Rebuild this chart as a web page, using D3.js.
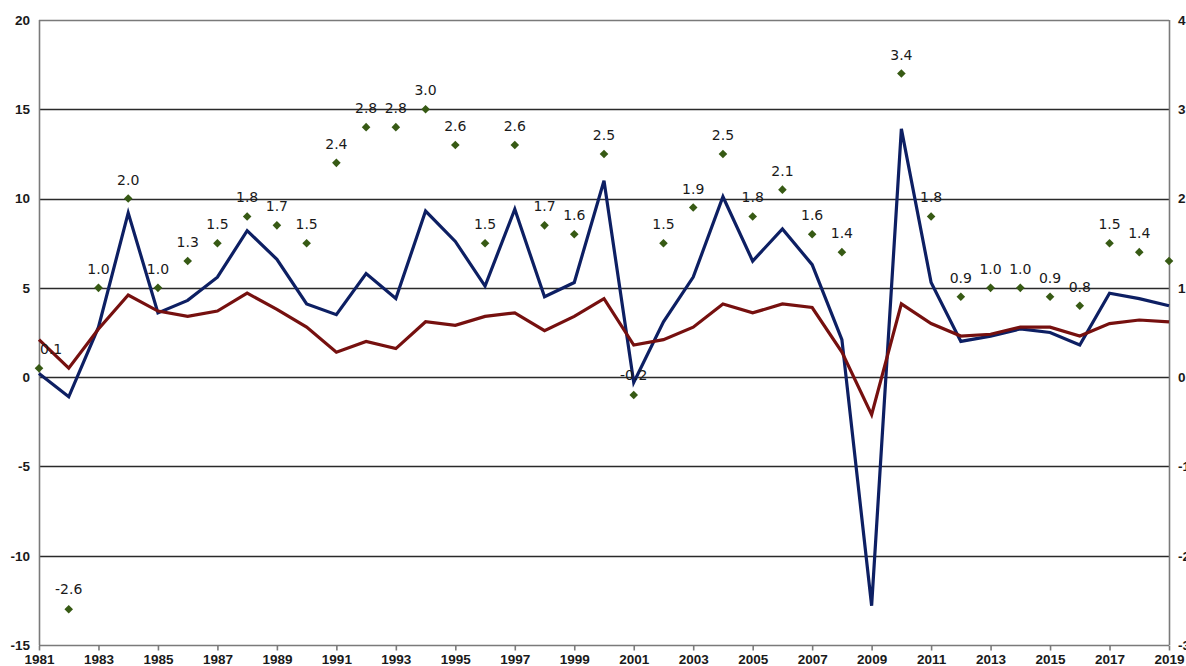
<!DOCTYPE html>
<html>
<head>
<meta charset="utf-8">
<script src="https://cdn.jsdelivr.net/npm/d3@7/dist/d3.min.js"></script>
<style>
  html, body { margin: 0; padding: 0; background: #fff; overflow: hidden; }
  svg { display: block; }
  .tick-label { font-family: "Liberation Sans", "DejaVu Sans", sans-serif; font-weight: bold; font-size: 13.5px; fill: #1a1a1a; }
  .data-label { font-family: "DejaVu Sans", sans-serif; font-size: 14px; fill: #1a1a1a; }
</style>
</head>
<body>
<svg id="chart" width="1186" height="666"></svg>
<script>
// Years on the x axis
const years = d3.range(1981, 2020);

// World trade volume growth, % (left axis)
const tradeGrowth = [0.2, -1.1, 2.8, 9.2, 3.6, 4.3, 5.6, 8.2, 6.6, 4.1,
  3.5, 5.8, 4.4, 9.3, 7.6, 5.1, 9.4, 4.5, 5.3, 11.0,
  -0.3, 3.1, 5.6, 10.1, 6.5, 8.3, 6.3, 2.1, -12.8, 13.9,
  5.3, 2.0, 2.3, 2.7, 2.5, 1.8, 4.7, 4.4, 4.0];

// World GDP growth, % (left axis)
const gdpGrowth = [2.1, 0.5, 2.7, 4.6, 3.7, 3.4, 3.7, 4.7, 3.8, 2.8,
  1.4, 2.0, 1.6, 3.1, 2.9, 3.4, 3.6, 2.6, 3.4, 4.4,
  1.8, 2.1, 2.8, 4.1, 3.6, 4.1, 3.9, 1.4, -2.1, 4.1,
  3.0, 2.3, 2.4, 2.8, 2.8, 2.3, 3.0, 3.2, 3.1];

// Ratio of trade growth to GDP growth (right axis); 2009 falls outside the scale
const ratio = [0.1, -2.6, 1.0, 2.0, 1.0, 1.3, 1.5, 1.8, 1.7, 1.5,
  2.4, 2.8, 2.8, 3.0, 2.6, 1.5, 2.6, 1.7, 1.6, 2.5,
  -0.2, 1.5, 1.9, 2.5, 1.8, 2.1, 1.6, 1.4, null, 3.4,
  1.8, 0.9, 1.0, 1.0, 0.9, 0.8, 1.5, 1.4, 1.3];

// Years whose ratio point carries no value label
const unlabelledYears = [2019];

// Axis ticks
const leftTicks = [-15, -10, -5, 0, 5, 10, 15, 20];
const rightTicks = [-3, -2, -1, 0, 1, 2, 3, 4];
const yearTicks = d3.range(1981, 2020, 2);

const svg = d3.select("#chart");
const plotLeft = 39, plotRight = 1169, plotTop = 20, plotBottom = 645;

const x = d3.scaleLinear().domain([1981, 2019]).range([plotLeft, plotRight]);
const yL = d3.scaleLinear().domain([-15, 20]).range([plotBottom, plotTop]);
const yR = d3.scaleLinear().domain([-3, 4]).range([plotBottom, plotTop]);

// Plain hyphen-minus for negative numbers
const locale = d3.formatLocale({ decimal: ".", thousands: ",", grouping: [3], currency: ["", ""], minus: "-" });
const fmtInt = locale.format("d");
const fmt1 = locale.format(".1f");

// Horizontal gridlines
svg.append("g")
  .selectAll("line")
  .data(leftTicks.filter(t => t > -15 && t < 20))
  .join("line")
  .attr("x1", plotLeft).attr("x2", plotRight)
  .attr("y1", d => Math.round(yL(d)) + 0.5)
  .attr("y2", d => Math.round(yL(d)) + 0.5)
  .attr("stroke", "#2a2a2a")
  .attr("stroke-width", 1.6);

// Frame: top line, left/right/bottom axis lines
const frame = svg.append("g").attr("stroke", "#7a7a7a").attr("stroke-width", 1.6).attr("fill", "none");
frame.append("line").attr("x1", plotLeft).attr("x2", plotRight).attr("y1", plotTop + 0.5).attr("y2", plotTop + 0.5);
frame.append("line").attr("x1", plotLeft).attr("x2", plotRight).attr("y1", plotBottom + 0.5).attr("y2", plotBottom + 0.5);
frame.append("line").attr("x1", plotLeft + 0.5).attr("x2", plotLeft + 0.5).attr("y1", plotTop).attr("y2", plotBottom);
frame.append("line").attr("x1", plotRight + 0.5).attr("x2", plotRight + 0.5).attr("y1", plotTop).attr("y2", plotBottom);

// X axis ticks and labels
const xAxis = d3.axisBottom(x).tickValues(yearTicks).tickFormat(fmtInt).tickSize(5).tickPadding(3);
const gx = svg.append("g").attr("transform", `translate(0,${plotBottom + 0.5})`).call(xAxis);
gx.select(".domain").remove();
gx.selectAll(".tick line").attr("stroke", "#7a7a7a").attr("stroke-width", 1.6);
gx.selectAll(".tick text").attr("class", "tick-label").attr("dy", "0.78em");

// Left axis labels
const yAxisL = d3.axisLeft(yL).tickValues(leftTicks).tickFormat(fmtInt).tickSize(0).tickPadding(9);
const gl = svg.append("g").attr("transform", `translate(${plotLeft},0)`).call(yAxisL);
gl.select(".domain").remove();
gl.selectAll(".tick text").attr("class", "tick-label").attr("text-anchor", "end");

// Right axis labels
const yAxisR = d3.axisRight(yR).tickValues(rightTicks).tickFormat(fmtInt).tickSize(0).tickPadding(9);
const gr = svg.append("g").attr("transform", `translate(${plotRight},0)`).call(yAxisR);
gr.select(".domain").remove();
gr.selectAll(".tick text").attr("class", "tick-label");

// Lines
const lineL = d3.line().x((d, i) => x(years[i])).y(d => yL(d));

svg.append("path")
  .datum(tradeGrowth)
  .attr("d", lineL)
  .attr("fill", "none")
  .attr("stroke", "#0d1f63")
  .attr("stroke-width", 3.2)
  .attr("stroke-linejoin", "miter");

svg.append("path")
  .datum(gdpGrowth)
  .attr("d", lineL)
  .attr("fill", "none")
  .attr("stroke", "#76100f")
  .attr("stroke-width", 3.2)
  .attr("stroke-linejoin", "miter");

// Ratio points as diamonds
const pts = years.map((yr, i) => ({ year: yr, v: ratio[i] })).filter(d => d.v !== null);
const diamond = "M0,-4.3L4.3,0L0,4.3L-4.3,0Z";

svg.append("g")
  .selectAll("path")
  .data(pts)
  .join("path")
  .attr("d", diamond)
  .attr("transform", d => `translate(${x(d.year)},${yR(d.v)})`)
  .attr("fill", "#375a14");

// Value labels above the diamonds
svg.append("g")
  .selectAll("text")
  .data(pts.filter(d => !unlabelledYears.includes(d.year)))
  .join("text")
  .attr("class", "data-label")
  .attr("x", d => x(d.year))
  .attr("y", d => yR(d.v) - (d.v < 0 ? 15 : 14))
  .attr("text-anchor", d => x(d.year) - 14 < plotLeft ? "start" : "middle")
  .attr("dx", d => x(d.year) - 14 < plotLeft ? 1 : 0)
  .text(d => fmt1(d.v));
</script>
</body>
</html>
